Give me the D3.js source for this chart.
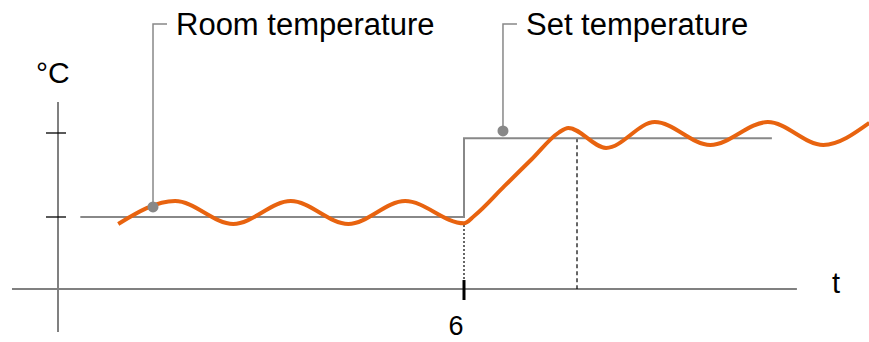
<!DOCTYPE html>
<html>
<head>
<meta charset="utf-8">
<script src="https://cdn.jsdelivr.net/npm/d3@7"></script>
<style>
  body { margin: 0; background: #fff; }
  svg { display: block; }
  text { font-family: "Liberation Sans", Arial, sans-serif; fill: #000; }
</style>
</head>
<body>
<div class="svg"></div>
<script>
var width = 869, height = 342;

// time (arbitrary units) and temperature values
var roomTemp = [
    [0.89, 19.67], [1.73, 20.76], [2.59, 19.67], [3.44, 20.76],
    [4.29, 19.67], [5.13, 20.76], [6.0, 19.70], [6.15, 20.05],
    [6.6, 21.48], [7.0, 22.75], [7.40, 24.02], [7.54, 24.24],
    [8.10, 23.29], [8.82, 24.52], [9.64, 23.43], [10.49, 24.52],
    [11.31, 23.43], [11.99, 24.48]
];
var setTemp = [[0.33, 20], [6.0, 20], [6.0, 23.75], [10.55, 23.75]];
var yTicks = [20, 24];
var xTicks = [6];
var settledTime = 7.67;

var svg, x, y;

var setupScales = function () {
    x = d3.scaleLinear().domain([0, 12]).range([58, 870]);
    y = d3.scaleLinear().domain([20, 24]).range([217, 133]);
};

var setupSVG = function () {
    svg = d3.select("div.svg")
        .append("svg")
        .attr("width", width)
        .attr("height", height);
};

var drawAxes = function () {
    var axisTemp = 16.57;
    // x axis
    svg.append("line")
        .attr("x1", x(-0.68)).attr("x2", x(10.92))
        .attr("y1", y(axisTemp)).attr("y2", y(axisTemp))
        .style("stroke", "#808080").style("stroke-width", 2);
    // y axis
    svg.append("line")
        .attr("x1", x(0)).attr("x2", x(0))
        .attr("y1", y(25.48)).attr("y2", y(14.52))
        .style("stroke", "#808080").style("stroke-width", 2);

    svg.selectAll("line.ytick")
        .data(yTicks)
        .enter().append("line")
        .attr("class", "ytick")
        .attr("x1", x(0) - 12).attr("x2", x(0) + 8)
        .attr("y1", function (d) { return y(d); })
        .attr("y2", function (d) { return y(d); })
        .style("stroke", "#000").style("stroke-width", 1.3);

    svg.selectAll("line.xtick")
        .data(xTicks)
        .enter().append("line")
        .attr("class", "xtick")
        .attr("x1", function (d) { return x(d); })
        .attr("x2", function (d) { return x(d); })
        .attr("y1", y(axisTemp) - 9).attr("y2", y(axisTemp) + 11)
        .style("stroke", "#000").style("stroke-width", 3);

    // kept a little above the bottom edge so the glyph box stays inside
    svg.selectAll("text.xlabel")
        .data(xTicks)
        .enter().append("text")
        .attr("class", "xlabel")
        .attr("x", function (d) { return x(d) - 8; })
        .attr("y", 335)
        .attr("text-anchor", "middle")
        .style("font-size", "27px")
        .text(function (d) { return d; });

    svg.append("text")
        .attr("x", 832).attr("y", 293)
        .style("font-size", "29px")
        .text("t");
    svg.append("text")
        .attr("x", 36).attr("y", 83)
        .style("font-size", "30px")
        .text("°C");
};

var drawGuides = function () {
    var axisTemp = 16.57;
    // from the room temperature at the step down to the axis
    svg.append("line")
        .attr("x1", x(6)).attr("x2", x(6))
        .attr("y1", y(19.62)).attr("y2", y(axisTemp) - 9)
        .style("stroke", "#000").style("stroke-width", 1.2)
        .style("stroke-dasharray", "2,2");
    svg.append("line")
        .attr("x1", x(settledTime)).attr("x2", x(settledTime))
        .attr("y1", y(23.75)).attr("y2", y(axisTemp))
        .style("stroke", "#000").style("stroke-width", 1.2)
        .style("stroke-dasharray", "4,3");
};

var drawLines = function () {
    var stepLine = d3.line()
        .x(function (d) { return x(d[0]); })
        .y(function (d) { return y(d[1]); });
    svg.append("path")
        .datum(setTemp)
        .attr("d", stepLine)
        .style("fill", "none")
        .style("stroke", "#888")
        .style("stroke-width", 2);

    var roomLine = d3.line()
        .curve(d3.curveMonotoneX)
        .x(function (d) { return x(d[0]); })
        .y(function (d) { return y(d[1]); });
    svg.append("path")
        .datum(roomTemp)
        .attr("d", roomLine)
        .style("fill", "none")
        .style("stroke", "#E8630F")
        .style("stroke-width", 4)
        .style("stroke-linecap", "butt");
};

var drawCallout = function (t, v, label) {
    var px = x(t), py = y(v);
    svg.append("path")
        .attr("d", "M" + px + "," + py + "V24H" + (px + 14))
        .style("fill", "none")
        .style("stroke", "#888")
        .style("stroke-width", 1.5);
    svg.append("circle")
        .attr("cx", px).attr("cy", py).attr("r", 5.5)
        .style("fill", "#888");
    svg.append("text")
        .attr("x", px + 23).attr("y", 35)
        .style("font-size", "31px")
        .text(label);
};

setupScales();
setupSVG();
drawAxes();
drawGuides();
drawLines();
drawCallout(1.404, 20.48, "Room temperature");
drawCallout(6.576, 24.10, "Set temperature");
</script>
</body>
</html>
